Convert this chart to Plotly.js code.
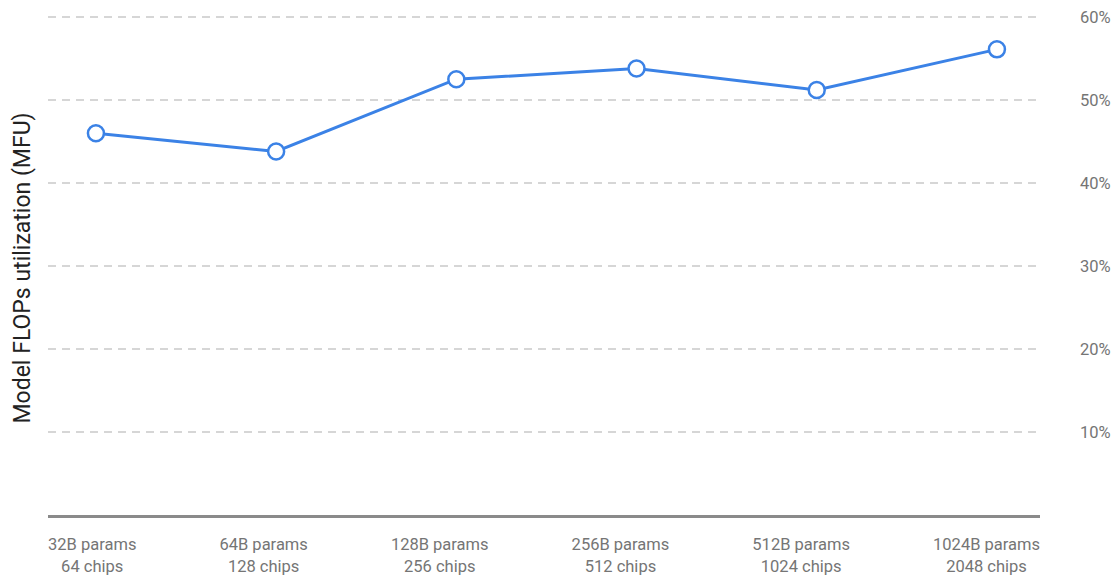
<!DOCTYPE html>
<html>
<head>
<meta charset="utf-8">
<script src="https://cdn.plot.ly/plotly-3.0.1.min.js"></script>
<style>html,body{margin:0;padding:0;background:#fff;}#chart{width:1119px;height:576px;}</style>
</head>
<body>
<div id="chart"></div>
<script>
const paramsLabels = ["32B params", "64B params", "128B params", "256B params", "512B params", "1024B params"];
const chipsLabels = ["64 chips", "128 chips", "256 chips", "512 chips", "1024 chips", "2048 chips"];
const mfuValues = [46.0, 43.8, 52.5, 53.8, 51.2, 56.1];
const yTicks = [10, 20, 30, 40, 50, 60];
const yTickText = ["10%", "20%", "30%", "40%", "50%", "60%"];

const FONT = "Roboto, 'Open Sans', sans-serif";
const LABEL_SIZE = 16.5;
const xRange = [-0.266, 5.239];
const plotLeft = 48, plotWidth = 1119 - 48 - 79, plotHeight = 576 - 12 - 61;

const xIdx = paramsLabels.map((_, i) => i);
const tickText = paramsLabels.map((p, i) => p + "<br>" + chipsLabels[i]);

// Labels are laid out "space-between" across the axis width (as in the reference)
const ctx = document.createElement("canvas").getContext("2d");
ctx.font = LABEL_SIZE + "px Roboto";
const widths = paramsLabels.map((p, i) => Math.max(ctx.measureText(p).width, ctx.measureText(chipsLabels[i]).width));
const gap = (plotWidth - widths.reduce((a, b) => a + b, 0)) / (widths.length - 1);
let cursor = 0;
const tickPos = widths.map(w => {
  const c = cursor + w / 2;
  cursor += w + gap;
  return xRange[0] + c / plotWidth * (xRange[1] - xRange[0]);
});

const trace = {
  x: xIdx,
  y: mfuValues,
  type: "scatter",
  mode: "lines+markers",
  line: {color: "#3b82e6", width: 3},
  marker: {size: 16, color: "#ffffff", line: {color: "#3b82e6", width: 2.5}},
  hoverinfo: "skip",
  cliponaxis: false
};

const layout = {
  width: 1119, height: 576,
  margin: {l: 48, r: 79, t: 12, b: 61},
  paper_bgcolor: "#ffffff", plot_bgcolor: "#ffffff",
  showlegend: false,
  font: {family: FONT, color: "#757575", size: 16},
  xaxis: {
    range: xRange,
    tickvals: tickPos, ticktext: tickText,
    showgrid: false, zeroline: false,
    showline: true, linecolor: "#8a8a8a", linewidth: 2.5,
    ticks: "", ticklabelstandoff: 13,
    tickfont: {size: LABEL_SIZE, color: "#757575"},
    fixedrange: true
  },
  yaxis: {
    range: [0, 60.6], side: "right",
    tickvals: yTicks, ticktext: yTickText,
    showgrid: true, gridcolor: "#d6d6d6", gridwidth: 2, griddash: "8px,6px",
    zeroline: false, showline: false, ticks: "",
    ticklabelstandoff: 39,
    tickfont: {size: 16.5, color: "#757575"},
    fixedrange: true
  },
  annotations: [{
    text: "Model FLOPs utilization (MFU)",
    xref: "paper", yref: "paper", x: (22 - 48) / plotWidth, y: 0.5 - 5 / plotHeight,
    xanchor: "center", yanchor: "middle", textangle: -90, showarrow: false,
    font: {size: 23, color: "#222222", family: FONT}
  }]
};

Plotly.newPlot("chart", [trace], layout, {displayModeBar: false, staticPlot: true});
</script>
</body>
</html>
